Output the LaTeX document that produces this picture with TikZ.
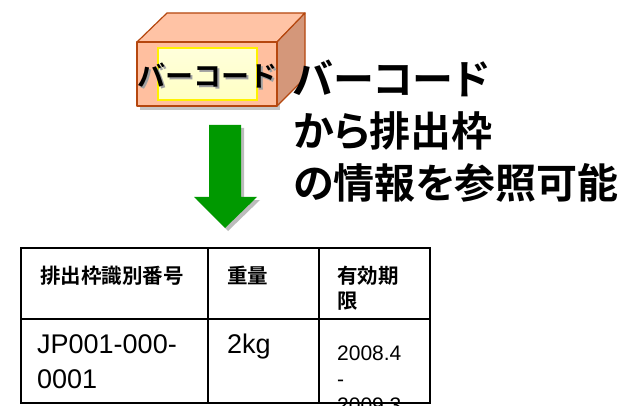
\documentclass[tikz,border=0pt]{standalone}
\usepackage{fontspec}
\setmainfont{Liberation Sans}
\newfontfamily\jpb{Noto Sans CJK JP Bold}
\newfontfamily\jpbp{Noto Sans CJK JP Bold}[RawFeature=+palt]
\begin{document}
\begin{tikzpicture}[x=1pt,y=-1pt,
  faceedge/.style={draw=boxedge,line width=1.2pt,line join=round},
  tline/.style={line width=1.6pt},
  cell/.style={anchor=base west,inner sep=0pt},
  jphead/.style={cell,font=\jpb\fontsize{20.5}{25}\selectfont,align=left},
  body/.style={cell,font=\fontsize{27}{35}\selectfont,align=left},
  small/.style={cell,font=\fontsize{21}{26}\selectfont,align=left}]
\definecolor{boxedge}{HTML}{B5470F}
\definecolor{boxfront}{HTML}{FFBF9F}
\definecolor{boxtop}{HTML}{FFC3A5}
\definecolor{boxside}{HTML}{D4977A}
\definecolor{labelfill}{HTML}{FFFFC4}
\definecolor{arrowgreen}{HTML}{009900}
\definecolor{shade}{HTML}{A0A0A0}
\clip (0,0) rectangle (634,406);
\fill[white] (0,0) rectangle (634,406);

% package box: shadow, then the three visible faces
\fill[shade!60] (140,46) rectangle (280,110);
\filldraw[faceedge,fill=boxtop] (137,42) -- (167,13) -- (305,13) -- (277,42) -- cycle;
\filldraw[faceedge,fill=boxside] (277,42) -- (305,13) -- (305,78) -- (277,106) -- cycle;
\filldraw[faceedge,fill=boxfront] (137,42) rectangle (277,106);

% barcode label on the front face
\shade[top color=labelfill!60,bottom color=labelfill] (158,48) rectangle (257,100);
\draw[yellow,line width=1.4pt] (158,48) rectangle (257,100);
\node[font=\jpb\fontsize{28}{28}\selectfont,text=shade] at (209.5,77.5) {バーコード};
\node[font=\jpb\fontsize{28}{28}\selectfont] (lbl) at (207.5,75.5) {バーコード};

% caption
\node[anchor=north west,inner sep=0pt,align=left,
  font=\jpbp\fontsize{41}{52}\selectfont] (cap) at (293,60)
  {バーコード\\から排出枠\\の情報を参照可能};

% green down arrow with its shadow
\fill[shade!70] (212,128) -- (244,128) -- (244,200) -- (260,200) -- (228,231) -- (197,200) -- (212,200) -- cycle;
\fill[arrowgreen] (209,125) -- (241,125) -- (241,197) -- (257,197) -- (225,228) -- (194,197) -- (209,197) -- cycle;

% table contents (multi-line cells are placed by their last baseline)
\node[jphead] (h1) at (40,283) {排出枠識別番号};
\node[jphead] (h2) at (227,283) {重量};
\node[jphead] (h3) at (337,308) {有効期\\限};
\node[body] (c1) at (37,388) {JP001-000-\\0001};
\node[body] (c2) at (227,353) {2kg};
\node[small] (c3) at (337,412) {2008.4\\-\\2009.3};

% table grid
\draw[tline] (21,248) rectangle (430,403);
\draw[tline] (208,248) -- (208,403);
\draw[tline] (319,248) -- (319,403);
\draw[tline] (21,319) -- (430,319);
\end{tikzpicture}
\end{document}
